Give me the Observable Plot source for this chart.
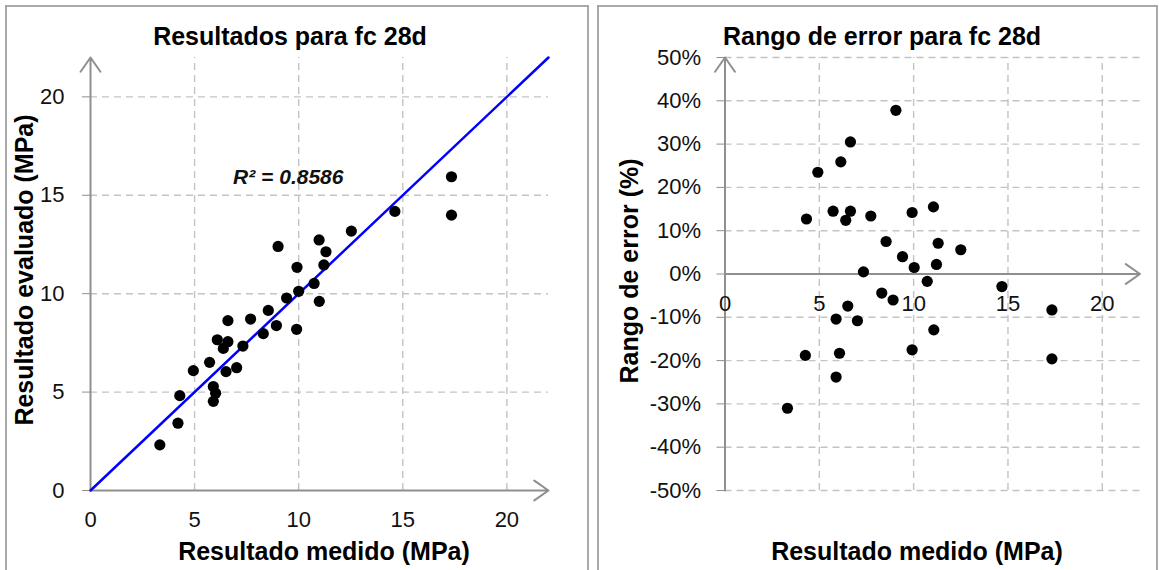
<!DOCTYPE html>
<html><head><meta charset="utf-8">
<script src="https://cdn.jsdelivr.net/npm/d3@7"></script>
<script src="https://cdn.jsdelivr.net/npm/@observablehq/plot@0.6"></script>
<style>
body{margin:0;background:#fff;font-family:"Liberation Sans",Arial,sans-serif;}
#wrap{position:relative;width:1159px;height:570px;overflow:hidden;background:#fff;}
.panel{position:absolute;border:2px solid #a9a9a9;box-sizing:border-box;}
.t{position:absolute;font-weight:bold;color:#000;white-space:nowrap;font-size:25px;line-height:1;}
.c{transform:translate(-50%,-50%);}
.r{transform:translate(-50%,-50%) rotate(-90deg);}
.plot{position:absolute;top:0;}
</style></head><body>
<div id="wrap">
  <div class="panel" style="left:5px;top:5px;width:584px;height:570px"></div>
  <div class="panel" style="left:597px;top:5px;width:561px;height:570px"></div>
  <div id="left" class="plot" style="left:0px"></div>
  <div id="right" class="plot" style="left:590px"></div>
  <div class="t c" style="left:290px;top:36px">Resultados para fc 28d</div>
  <div class="t c" style="left:882px;top:36px">Rango de error para fc 28d</div>
  <div class="t c" style="left:324px;top:551px">Resultado medido (MPa)</div>
  <div class="t c" style="left:917px;top:551px">Resultado medido (MPa)</div>
  <div class="t r" style="left:24px;top:270px">Resultado evaluado (MPa)</div>
  <div class="t r" style="left:629px;top:271px">Rango de error (%)</div>
</div>
<script>
// ---- data: left chart (measured vs evaluated, MPa)
const measured  = [3.33,4.20,4.29,4.94,5.90,6.01,5.90,5.72,6.09,6.38,6.60,6.60,6.51,7.02,7.32,7.69,8.30,8.54,8.93,9.01,9.42,9.90,10.00,9.92,10.74,10.99,11.21,11.31,10.98,12.53,14.62,17.34,17.34];
const evaluated = [2.32,3.42,4.82,6.09,4.53,4.94,5.28,6.51,7.66,7.22,7.56,8.63,6.04,6.24,7.34,8.71,7.97,9.15,8.38,12.40,9.78,8.19,10.12,11.34,10.52,9.61,11.46,12.13,12.73,13.18,14.18,15.94,13.99];
// ---- data: right chart (measured vs error range)
const errMeasured = [9.06,6.65,6.14,4.92,4.32,5.73,6.65,6.40,7.73,9.92,11.05,8.54,9.41,11.30,12.50,10.03,11.21,7.34,10.72,14.68,8.31,8.91,6.51,5.89,7.02,17.33,11.07,4.26,6.07,9.92,17.33,5.89,3.31];
const errRange    = [0.378,0.305,0.259,0.235,0.127,0.145,0.145,0.124,0.134,0.142,0.155,0.075,0.040,0.071,0.056,0.015,0.022,0.005,-0.017,-0.029,-0.044,-0.060,-0.074,-0.104,-0.108,-0.083,-0.129,-0.188,-0.183,-0.175,-0.196,-0.238,-0.310];
// ---- reference line y = x
const fitX = [0, 22];
const fitY = [0, 22];
const r2Label = "R² = 0.8586";
const r2Pos = {x: 6.85, y: 15.9};
// ---- ticks
const xTicks  = [0, 5, 10, 15, 20];
const yTicksL = [0, 5, 10, 15, 20];
const yTicksR = [-0.5,-0.4,-0.3,-0.2,-0.1,0,0.1,0.2,0.3,0.4,0.5];
const xMax = 22;

const FONT = "Liberation Sans, Arial, sans-serif";
const GRID = {stroke:"#c3c3c3", strokeWidth:1.4, strokeDasharray:"7,5"};
const AXIS = {stroke:"#8f8f8f", strokeWidth:2, headLength:13, headAngle:70};
const TXT = "#111";
const TICKFS = 22;

const leftPlot = Plot.plot({
  width:590, height:570, marginLeft:90, marginRight:42, marginTop:57, marginBottom:80,
  x:{domain:[0, xMax], axis:null}, y:{domain:[0, xMax], axis:null},
  style:{fontFamily:FONT, background:"transparent", overflow:"visible"},
  marks:[
    Plot.ruleX(xTicks.filter(d=>d>0), {x:d=>d, y1:0, y2:xMax, ...GRID}),
    Plot.ruleY(yTicksL.filter(d=>d>0), {y:d=>d, x1:0, x2:xMax, ...GRID}),
    Plot.arrow([0], {x1:0, y1:0, x2:xMax, y2:0, ...AXIS}),
    Plot.arrow([0], {x1:0, y1:0, x2:0, y2:xMax, ...AXIS}),
    Plot.axisY(yTicksL, {tickSize:8, tickPadding:18, fontSize:TICKFS, stroke:"#8f8f8f", fill:TXT, label:null}),
    Plot.axisX(xTicks, {tickSize:0, tickPadding:21, fontSize:TICKFS, fill:TXT, label:null}),
    Plot.line(fitX.map((x,i)=>({x, y:fitY[i]})), {x:"x", y:"y", stroke:"#0000ff", strokeWidth:2.5}),
    Plot.dot(measured.map((x,i)=>({x, y:evaluated[i]})), {x:"x", y:"y", r:5.6, fill:"#000", stroke:null}),
    Plot.text([r2Label], {x:r2Pos.x, y:r2Pos.y, text:d=>d, textAnchor:"start", fontSize:21, fontWeight:"bold", fontStyle:"italic", fill:TXT})
  ]
});
document.getElementById("left").appendChild(leftPlot);

const rightPlot = Plot.plot({
  width:569, height:570, marginLeft:134.5, marginRight:19.5, marginTop:57, marginBottom:80,
  x:{domain:[0, xMax], axis:null}, y:{domain:[-0.5, 0.5], axis:null},
  style:{fontFamily:FONT, background:"transparent", overflow:"visible"},
  marks:[
    Plot.ruleX(xTicks.filter(d=>d>0), {x:d=>d, y1:-0.5, y2:0.5, ...GRID}),
    Plot.ruleY(yTicksR.filter(d=>d!==0), {y:d=>d, x1:0, x2:xMax, ...GRID}),
    Plot.arrow([0], {x1:0, y1:0, x2:xMax, y2:0, ...AXIS}),
    Plot.arrow([0], {x1:0, y1:-0.5, x2:0, y2:0.5, ...AXIS}),
    Plot.axisY(yTicksR, {tickSize:8, tickPadding:16, fontSize:TICKFS, stroke:"#8f8f8f", fill:TXT, label:null, tickFormat:d=>Math.round(d*100)+"%"}),
    Plot.text(xTicks, {x:d=>d, y:0, dy:30, text:d=>String(d), fontSize:TICKFS, fill:TXT}),
    Plot.dot(errMeasured.map((x,i)=>({x, y:errRange[i]})), {x:"x", y:"y", r:5.6, fill:"#000", stroke:null})
  ]
});
document.getElementById("right").appendChild(rightPlot);
</script>
</body></html>
